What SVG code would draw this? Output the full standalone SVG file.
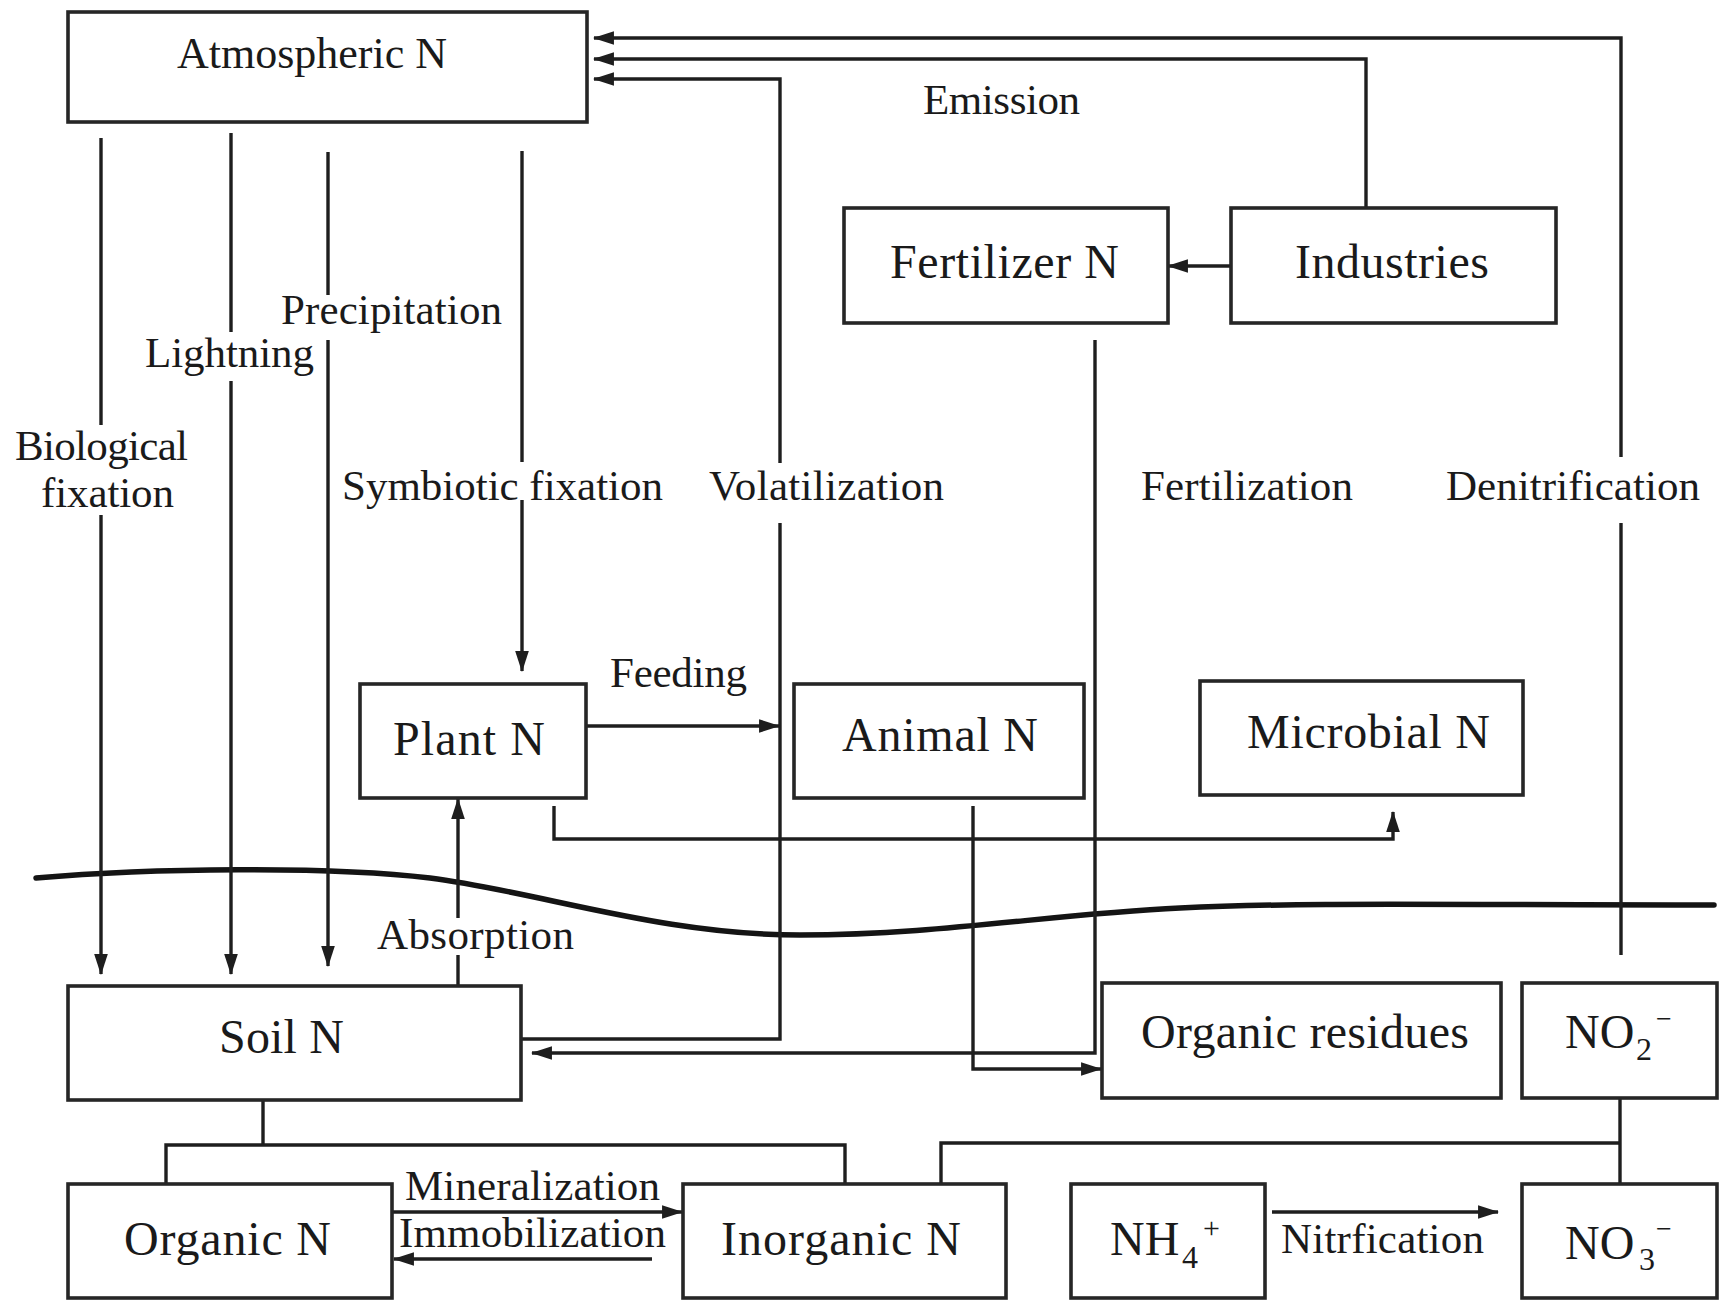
<svg xmlns="http://www.w3.org/2000/svg" width="1730" height="1311" viewBox="0 0 1730 1311">
  <defs>
    <marker id="arrow" viewBox="0 0 20 16" markerWidth="21" markerHeight="17" refX="19" refY="8" orient="auto" markerUnits="userSpaceOnUse">
      <path d="M0,1.5 L20,8 L0,14.5 z" fill="#1e1e1e"/>
    </marker>
  </defs>
  <style>
    .box { fill: #ffffff; stroke: #262626; stroke-width: 3.6; }
    .ln { fill: none; stroke: #1e1e1e; stroke-width: 3.4; }
    .arr { marker-end: url(#arrow); }
    .ground { fill: none; stroke: #141414; stroke-width: 5.5; stroke-linecap: round; }
    text { font-family: "Liberation Serif", "Times New Roman", serif; fill: #1a1a1a; }
    .node { font-size: 48px; }
    .lbl { font-size: 43px; }
  </style>
  <rect width="1730" height="1311" fill="#ffffff"/>

  <!-- ground surface -->
  <path class="ground" d="M36,878 C150,868 330,866 430,878 C540,892 660,935 800,935 C940,935 1050,914 1180,908 C1300,902 1450,905 1714,905"/>

  <!-- connectors -->
  <g id="connectors">
    <!-- atmosphere to soil -->
    <path class="ln" d="M101,138 V425"/>
    <path class="ln arr" d="M101,515 V974"/>
    <path class="ln" d="M231,133 V332"/>
    <path class="ln arr" d="M231,381 V974"/>
    <path class="ln" d="M328,152 V295"/>
    <path class="ln arr" d="M328,340 V966"/>
    <!-- symbiotic fixation to plant -->
    <path class="ln" d="M522,151 V462"/>
    <path class="ln arr" d="M522,500 V671"/>
    <!-- absorption -->
    <path class="ln" d="M458,987 V955"/>
    <path class="ln arr" d="M458,918 V799"/>
    <!-- feeding -->
    <path class="ln arr" d="M586,726 H779"/>
    <!-- plant to microbial -->
    <path class="ln arr" d="M554,806 V839 H1393 V812"/>
    <!-- animal to organic residues -->
    <path class="ln arr" d="M973,806 V1069 H1101"/>
    <!-- fertilization -->
    <path class="ln arr" d="M1095,340 V1053 H532"/>
    <!-- volatilization -->
    <path class="ln" d="M522,1039 H780 V523"/>
    <path class="ln arr" d="M780,463 V79 H594"/>
    <!-- industrial emission -->
    <path class="ln arr" d="M1366,208 V59 H594"/>
    <!-- denitrification -->
    <path class="ln" d="M1621,955 V523"/>
    <path class="ln arr" d="M1621,457 V38 H594"/>
    <!-- industries to fertilizer -->
    <path class="ln arr" d="M1231,266 H1168"/>
    <!-- soil N split -->
    <path class="ln" d="M263,1100 V1145"/>
    <path class="ln" d="M166,1184 V1145 H845 V1184"/>
    <!-- inorganic N split -->
    <path class="ln" d="M941,1184 V1143 H1620"/>
    <path class="ln" d="M1620,1098 V1184"/>
    <!-- mineralization / immobilization -->
    <path class="ln arr" d="M392,1212 H682"/>
    <path class="ln arr" d="M652,1259 H394"/>
    <!-- nitrification -->
    <path class="ln arr" d="M1272,1212 H1498"/>
  </g>

  <!-- process labels -->
  <g id="labels">
    <text class="lbl" x="923" y="114" textLength="157" lengthAdjust="spacing">Emission</text>
    <text class="lbl" x="281" y="324" textLength="221" lengthAdjust="spacing">Precipitation</text>
    <text class="lbl" x="145" y="367" textLength="169" lengthAdjust="spacing">Lightning</text>
    <text class="lbl" x="15" y="460" textLength="173" lengthAdjust="spacing">Biological</text>
    <text class="lbl" x="41" y="507" textLength="133" lengthAdjust="spacing">fixation</text>
    <text class="lbl" x="342" y="500" textLength="321" lengthAdjust="spacing">Symbiotic fixation</text>
    <text class="lbl" x="709" y="500" textLength="235" lengthAdjust="spacing">Volatilization</text>
    <text class="lbl" x="1141" y="500" textLength="212" lengthAdjust="spacing">Fertilization</text>
    <text class="lbl" x="1446" y="500" textLength="254" lengthAdjust="spacing">Denitrification</text>
    <text class="lbl" x="610" y="687" textLength="137" lengthAdjust="spacing">Feeding</text>
    <text class="lbl" x="377" y="949" textLength="197" lengthAdjust="spacing">Absorption</text>
    <text class="lbl" x="405" y="1200" textLength="255" lengthAdjust="spacing">Mineralization</text>
    <text class="lbl" x="399" y="1247" textLength="267" lengthAdjust="spacing">Immobilization</text>
    <text class="lbl" x="1281" y="1253" textLength="203" lengthAdjust="spacing">Nitrfication</text>
  </g>

  <!-- pools -->
  <g id="atmospheric-n">
    <rect class="box" x="68" y="12" width="519" height="110"/>
    <text x="177" y="68" font-size="44" textLength="270" lengthAdjust="spacing">Atmospheric N</text>
  </g>
  <g id="fertilizer-n">
    <rect class="box" x="844" y="208" width="324" height="115"/>
    <text class="node" x="890" y="278" textLength="229" lengthAdjust="spacing">Fertilizer N</text>
  </g>
  <g id="industries">
    <rect class="box" x="1231" y="208" width="325" height="115"/>
    <text class="node" x="1295" y="278" textLength="194" lengthAdjust="spacing">Industries</text>
  </g>
  <g id="plant-n">
    <rect class="box" x="360" y="684" width="226" height="114"/>
    <text class="node" x="393" y="755" textLength="152" lengthAdjust="spacing">Plant N</text>
  </g>
  <g id="animal-n">
    <rect class="box" x="794" y="684" width="290" height="114"/>
    <text class="node" x="842" y="751" textLength="196" lengthAdjust="spacing">Animal N</text>
  </g>
  <g id="microbial-n">
    <rect class="box" x="1200" y="681" width="323" height="114"/>
    <text class="node" x="1247" y="748" textLength="243" lengthAdjust="spacing">Microbial N</text>
  </g>
  <g id="soil-n">
    <rect class="box" x="68" y="986" width="453" height="114"/>
    <text class="node" x="219" y="1053" textLength="125" lengthAdjust="spacing">Soil N</text>
  </g>
  <g id="organic-residues">
    <rect class="box" x="1102" y="983" width="399" height="115"/>
    <text class="node" x="1141" y="1048" textLength="328" lengthAdjust="spacing">Organic residues</text>
  </g>
  <g id="nitrite">
    <rect class="box" x="1522" y="983" width="195" height="115"/>
    <text class="node"><tspan x="1565" y="1048">NO</tspan><tspan x="1636" y="1060" font-size="32">2</tspan><tspan x="1656" y="1028" font-size="28">−</tspan></text>
  </g>
  <g id="organic-n">
    <rect class="box" x="68" y="1184" width="324" height="114"/>
    <text class="node" x="124" y="1255" textLength="207" lengthAdjust="spacing">Organic N</text>
  </g>
  <g id="inorganic-n">
    <rect class="box" x="683" y="1184" width="323" height="114"/>
    <text class="node" x="721" y="1255" textLength="240" lengthAdjust="spacing">Inorganic N</text>
  </g>
  <g id="ammonium">
    <rect class="box" x="1071" y="1184" width="194" height="114"/>
    <text class="node"><tspan x="1110" y="1255">NH</tspan><tspan x="1182" y="1268" font-size="32">4</tspan><tspan x="1203" y="1238" font-size="30">+</tspan></text>
  </g>
  <g id="nitrate">
    <rect class="box" x="1522" y="1184" width="195" height="114"/>
    <text class="node"><tspan x="1565" y="1259">NO</tspan><tspan x="1639" y="1270" font-size="32">3</tspan><tspan x="1656" y="1238" font-size="28">−</tspan></text>
  </g>
</svg>
